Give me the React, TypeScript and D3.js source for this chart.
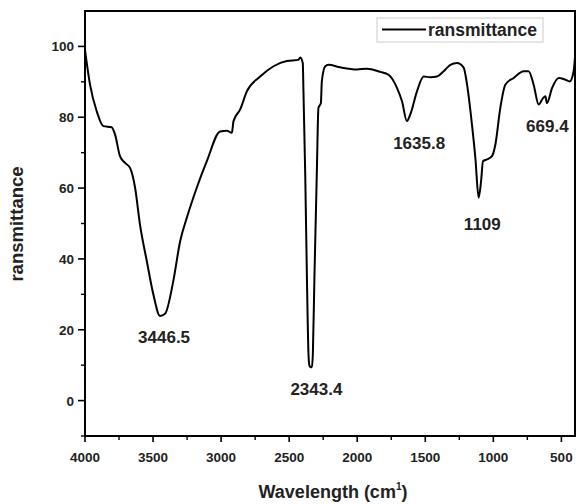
import React from "react";
import * as d3 from "d3";

const wavenumber = [4000, 3963, 3914, 3865, 3804, 3779, 3743, 3706, 3669, 3632, 3596, 3546, 3498, 3449, 3412, 3351, 3301, 3252, 3179, 3105, 3007, 2958, 2921, 2909, 2860, 2811, 2713, 2615, 2517, 2432, 2419, 2400, 2395, 2382, 2370, 2358, 2351, 2340, 2333, 2326, 2314, 2297, 2285, 2267, 2260, 2235, 2211, 2125, 2002, 1929, 1831, 1770, 1708, 1671, 1635, 1610, 1561, 1512, 1463, 1414, 1365, 1316, 1267, 1218, 1193, 1157, 1132, 1108, 1090, 1076, 1046, 1010, 985, 949, 912, 851, 777, 741, 704, 667, 635, 618, 606, 568, 520, 471, 439, 410, 400];
const transmittance = [99, 89.2, 81.7, 77.5, 77.2, 75.1, 69, 67.1, 65.7, 60.1, 49.7, 39.4, 30, 23.9, 24.5, 33.8, 45, 51.6, 60.1, 67.6, 76, 76.2, 75.6, 78.9, 82.2, 87.3, 91.5, 94.4, 95.9, 96.2, 96.9, 95.3, 87.3, 63.9, 35.7, 13.1, 9.9, 9.4, 9.4, 13.1, 35.7, 63.9, 82.6, 84, 90.1, 94.4, 94.8, 94.1, 93.5, 93.7, 92.8, 92, 88.3, 84.5, 78.9, 80.8, 87.3, 91.5, 91.3, 91.5, 93, 94.8, 95.3, 94, 89.2, 77.9, 68.5, 57.3, 62, 67.6, 68.1, 69, 72.3, 82.6, 89.2, 91.1, 93, 93, 89.2, 83.6, 85.4, 85.9, 84, 88.3, 91.1, 90.6, 90.1, 93, 97];

const xTicks = [4000, 3500, 3000, 2500, 2000, 1500, 1000, 500];
const xMinorTicks = [3750, 3250, 2750, 2250, 1750, 1250, 750];
const yTicks = [0, 20, 40, 60, 80, 100];
const yMinorTicks = [-10, 10, 30, 50, 70, 90];

const peakLabels = ["3446.5", "2343.4", "1635.8", "1109", "669.4"];
const labelX = [3419, 2300, 1545, 1081, 603];
const labelY = [16.3, 1.7, 71, 48.2, 75.8];

const seriesName = "ransmittance";
const xTitle = "Wavelength (cm";
const xTitleSup = "1";
const yTitle = "ransmittance";

export default function App() {
  const W = 576, H = 504;
  const left = 85, right = 575, top = 11, bottom = 436;
  const x = d3.scaleLinear().domain([4000, 400]).range([left, right]);
  const y = d3.scaleLinear().domain([-10, 110]).range([bottom, top]);
  const pts = wavenumber.map((w, i) => [w, transmittance[i]] as [number, number]);
  const line = d3.line<[number, number]>().x(d => x(d[0])).y(d => y(d[1])).curve(d3.curveMonotoneX);
  const font = "'Liberation Sans', Arial, sans-serif";
  return (
    <svg width={W} height={H} style={{ position: "absolute", left: 0, top: 0, background: "#fff" }} fontFamily={font}>
      <rect x={0} y={0} width={W} height={H} fill="#fff" />
      <defs>
        <clipPath id="plotclip">
          <rect x={left} y={top} width={right - left} height={bottom - top} />
        </clipPath>
      </defs>
      <path d={line(pts) || ""} fill="none" stroke="#000" strokeWidth={2} strokeLinejoin="round" clipPath="url(#plotclip)" />
      <rect x={left} y={top} width={right - left} height={bottom - top} fill="none" stroke="#000" strokeWidth={2} />
      {xTicks.map(t => (
        <g key={"xt" + t}>
          <line x1={x(t)} x2={x(t)} y1={bottom} y2={bottom + 6} stroke="#000" strokeWidth={1.6} />
          <text x={x(t)} y={bottom + 26} textAnchor="middle" fontSize={13.5} fontWeight="bold" fill="#222">{t}</text>
        </g>
      ))}
      {xMinorTicks.map(t => (
        <line key={"xm" + t} x1={x(t)} x2={x(t)} y1={bottom} y2={bottom + 4} stroke="#000" strokeWidth={1.4} />
      ))}
      {yTicks.map(t => (
        <g key={"yt" + t}>
          <line x1={left - 7} x2={left} y1={y(t)} y2={y(t)} stroke="#000" strokeWidth={1.6} />
          <text x={left - 11} y={y(t) + 5} textAnchor="end" fontSize={13.5} fontWeight="bold" fill="#222">{t}</text>
        </g>
      ))}
      {yMinorTicks.map(t => (
        <line key={"ym" + t} x1={left - 4} x2={left} y1={y(t)} y2={y(t)} stroke="#000" strokeWidth={1.4} />
      ))}
      {peakLabels.map((l, i) => (
        <text key={l} x={x(labelX[i])} y={y(labelY[i])} textAnchor="middle" fontSize={17} fontWeight="bold" fill="#222">{l}</text>
      ))}
      <rect x={377} y={18} width={166} height={24} fill="#fff" stroke="#ccc" strokeWidth={1} />
      <line x1={382} x2={426} y1={29.5} y2={29.5} stroke="#000" strokeWidth={2} />
      <text x={428} y={36} fontSize={17.5} fontWeight="bold" fill="#222">{seriesName}</text>
      <text x={333} y={498} textAnchor="middle" fontSize={18} fontWeight="bold" fill="#222">
        {xTitle}<tspan fontSize={10} dy={-8}>{xTitleSup}</tspan><tspan dy={8}>)</tspan>
      </text>
      <text transform={`translate(23, 224) rotate(-90)`} textAnchor="middle" fontSize={18.5} fontWeight="bold" fill="#222">{yTitle}</text>
    </svg>
  );
}
